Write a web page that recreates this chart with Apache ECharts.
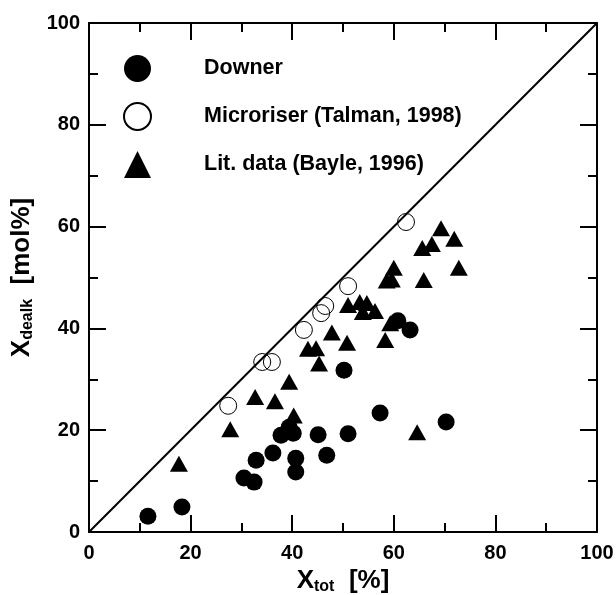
<!DOCTYPE html>
<html><head><meta charset="utf-8">
<script src="https://cdn.jsdelivr.net/npm/echarts@6/dist/echarts.min.js"></script>
<style>html,body{margin:0;padding:0;background:#fff}#c{width:616px;height:595px}</style>
</head><body><div id="c"></div>
<script>
const seriesNames = ['Downer', 'Microriser (Talman, 1998)', 'Lit. data (Bayle, 1996)'];
const downer = [
  [11.6, 3.1], [18.3, 4.9], [30.5, 10.6], [32.5, 9.8], [32.9, 14.1], [36.2, 15.5],
  [37.8, 19.0], [39.4, 20.6], [40.2, 19.4], [40.7, 14.5], [40.7, 11.8], [45.1, 19.1],
  [46.8, 15.1], [51.0, 19.3], [50.2, 31.8], [57.3, 23.4], [70.3, 21.6], [60.8, 41.5],
  [63.2, 39.7]
];
const microriser = [
  [27.4, 24.8], [34.1, 33.4], [36.0, 33.4], [42.3, 39.7], [45.7, 43.0], [46.5, 44.4],
  [51.0, 48.3], [62.4, 60.9]
];
const litData = [
  [17.7, 13.4], [27.8, 20.2], [32.7, 26.5], [36.6, 25.7], [39.4, 29.5], [40.3, 22.9],
  [43.1, 36.0], [44.7, 36.1], [45.3, 33.1], [47.8, 39.2], [50.8, 37.2], [51.0, 44.6],
  [53.3, 45.2], [54.7, 45.0], [53.9, 43.2], [56.3, 43.4], [58.3, 37.7], [59.3, 41.0],
  [58.6, 49.4], [59.6, 49.6], [60.0, 51.9], [65.9, 49.5], [72.8, 51.9], [65.6, 55.8],
  [67.5, 56.6], [69.3, 59.7], [71.9, 57.6], [64.6, 19.6]
];
const diagonal = [[0, 0], [100, 100]];
const axisMin = 0, axisMax = 100, axisStep = 20;

const FONT = '"Liberation Sans", Arial, sans-serif';
const chart = echarts.init(document.getElementById('c'));
const baseAxis = {
  min: axisMin, max: axisMax, interval: axisStep,
  axisLine: {show: true, onZero: false, lineStyle: {color: '#000', width: 2}},
  axisTick: {show: true, inside: true, length: 17, lineStyle: {color: '#000', width: 2}},
  minorTick: {show: true, splitNumber: 2, length: 9, lineStyle: {color: '#000', width: 2}},
  splitLine: {show: false},
  axisLabel: {color: '#000', fontFamily: FONT, fontWeight: 'bold', fontSize: 20}
};
const titleRich = {
  a: {fontFamily: FONT, fontWeight: 'bold', fontSize: 26, color: '#000'},
  b: {fontFamily: FONT, fontWeight: 'bold', fontSize: 16, color: '#000', verticalAlign: 'bottom', padding: [12, 0, 0, 0]}
};
chart.setOption({
  animation: false,
  backgroundColor: '#fff',
  grid: {left: 89, right: 19, top: 23, bottom: 63, containLabel: false, outerBoundsMode: 'none'},
  legend: {
    data: seriesNames,
    orient: 'vertical', left: 118, top: 50,
    itemWidth: 27, itemHeight: 27, itemGap: 20,
    textStyle: {color: '#000', fontFamily: FONT, fontWeight: 'bold', fontSize: 21.5, padding: [0, 0, 0, 48]}
  },
  xAxis: [
    Object.assign({}, baseAxis, {
      type: 'value', position: 'bottom',
      axisLabel: Object.assign({}, baseAxis.axisLabel, {margin: 11}),
      name: '{a|X}{b|tot}{a|  [%]}', nameLocation: 'middle', nameGap: 31,
      nameTextStyle: {rich: titleRich}
    }),
    Object.assign({}, baseAxis, {type: 'value', position: 'top', axisLabel: {show: false}})
  ],
  yAxis: [
    Object.assign({}, baseAxis, {
      type: 'value', position: 'left',
      axisLabel: Object.assign({}, baseAxis.axisLabel, {margin: 9}),
      name: '{a|X}{b|dealk}{a|  [mol%]}', nameLocation: 'middle', nameGap: 52, nameRotate: 90,
      nameTextStyle: {rich: titleRich}
    }),
    Object.assign({}, baseAxis, {type: 'value', position: 'right', axisLabel: {show: false}})
  ],
  series: [
    {type: 'line', data: diagonal, symbol: 'none', lineStyle: {color: '#000', width: 2}, z: 1, silent: true},
    {name: seriesNames[2], type: 'scatter', data: litData, symbol: 'triangle', symbolSize: [18, 16],
     itemStyle: {color: '#000', opacity: 1}, z: 2},
    {name: seriesNames[1], type: 'scatter', data: microriser, symbol: 'circle', symbolSize: 17,
     itemStyle: {color: 'rgba(255,255,255,0)', borderColor: '#000', borderWidth: 1, opacity: 1}, z: 3},
    {name: seriesNames[0], type: 'scatter', data: downer, symbol: 'circle', symbolSize: 17,
     itemStyle: {color: '#000', opacity: 1}, z: 4}
  ]
});
</script></body></html>
